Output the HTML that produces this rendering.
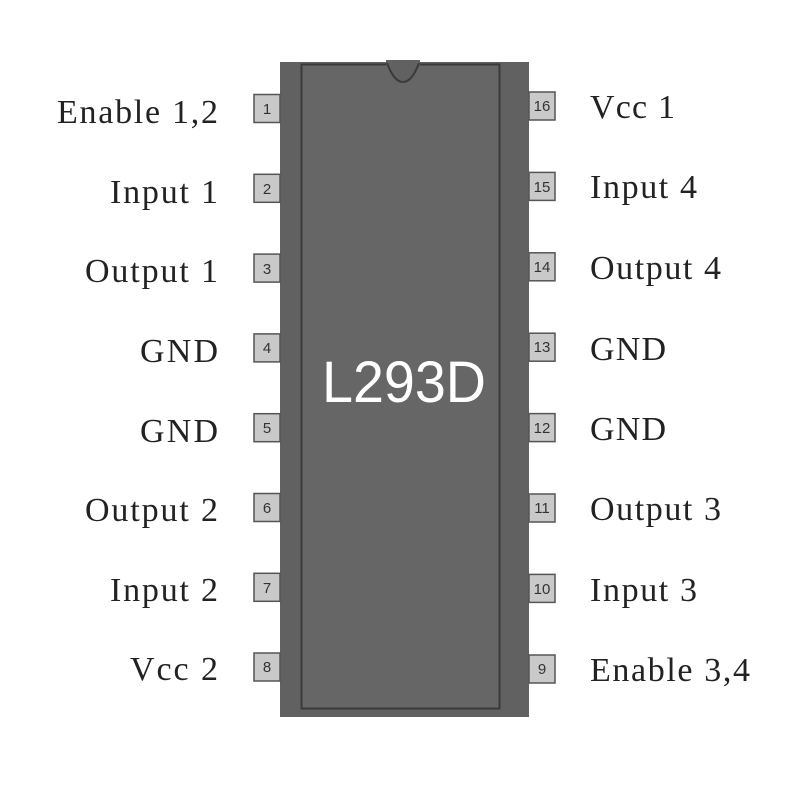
<!DOCTYPE html>
<html><head><style>body{margin:0;background:#fff}</style></head><body>
<svg width="800" height="800" xmlns="http://www.w3.org/2000/svg">
<rect width="800" height="800" fill="#fff"/>
<rect x="280" y="62" width="249" height="655" fill="#616161"/>
<rect x="301.5" y="64.5" width="198" height="644" fill="#666" stroke="#3a3a3a" stroke-width="2"/>
<rect x="386" y="60" width="34" height="6" fill="#616161"/>
<path d="M387 63 Q394 82 403 82 Q412 82 419 63" fill="#616161" stroke="#3a3a3a" stroke-width="2"/>
<g fill="#c9c9c9" stroke="#555" stroke-width="1.5">
<rect x="254" y="94.5" width="26" height="28"/><rect x="254" y="174.3" width="26" height="28"/><rect x="254" y="254.1" width="26" height="28"/><rect x="254" y="333.9" width="26" height="28"/><rect x="254" y="413.7" width="26" height="28"/><rect x="254" y="493.5" width="26" height="28"/><rect x="254" y="573.3" width="26" height="28"/><rect x="254" y="653" width="26" height="28"/>
<rect x="529" y="92" width="26" height="28"/><rect x="529" y="172.4" width="26" height="28"/><rect x="529" y="252.8" width="26" height="28"/><rect x="529" y="333.2" width="26" height="28"/><rect x="529" y="413.6" width="26" height="28"/><rect x="529" y="494" width="26" height="28"/><rect x="529" y="574.4" width="26" height="28"/><rect x="529" y="655" width="26" height="28"/>
</g>
<g fill="#333" font-family="Liberation Sans, sans-serif" font-size="15" text-anchor="middle">
<text x="267" y="114">1</text><text x="267" y="194">2</text><text x="267" y="274">3</text><text x="267" y="353">4</text><text x="267" y="433">5</text><text x="267" y="513">6</text><text x="267" y="593">7</text><text x="267" y="672">8</text>
<text x="542" y="111">16</text><text x="542" y="192">15</text><text x="542" y="272">14</text><text x="542" y="352">13</text><text x="542" y="433">12</text><text x="542" y="513">11</text><text x="542" y="594">10</text><text x="542" y="674">9</text>
</g>
<g fill="#222" font-family="Liberation Serif, serif" font-size="34">
<text x="57" y="123" textLength="161">Enable 1,2</text>
<text x="110" y="203" textLength="108">Input 1</text>
<text x="85" y="282" textLength="133">Output 1</text>
<text x="140" y="362" textLength="78">GND</text>
<text x="140" y="442" textLength="78">GND</text>
<text x="85" y="521" textLength="133">Output 2</text>
<text x="110" y="601" textLength="108">Input 2</text>
<text x="130" y="680" textLength="88">Vcc 2</text>
<text x="590" y="118" textLength="85">Vcc 1</text>
<text x="590" y="198" textLength="107">Input 4</text>
<text x="590" y="279" textLength="131">Output 4</text>
<text x="590" y="360" textLength="76">GND</text>
<text x="590" y="440" textLength="76">GND</text>
<text x="590" y="520" textLength="131">Output 3</text>
<text x="590" y="601" textLength="107">Input 3</text>
<text x="590" y="681" textLength="160">Enable 3,4</text>
</g>
<text x="322" y="402" textLength="164" lengthAdjust="spacingAndGlyphs" fill="#fff" font-family="Liberation Sans, sans-serif" font-size="58">L293D</text>
</svg>
</body></html>
